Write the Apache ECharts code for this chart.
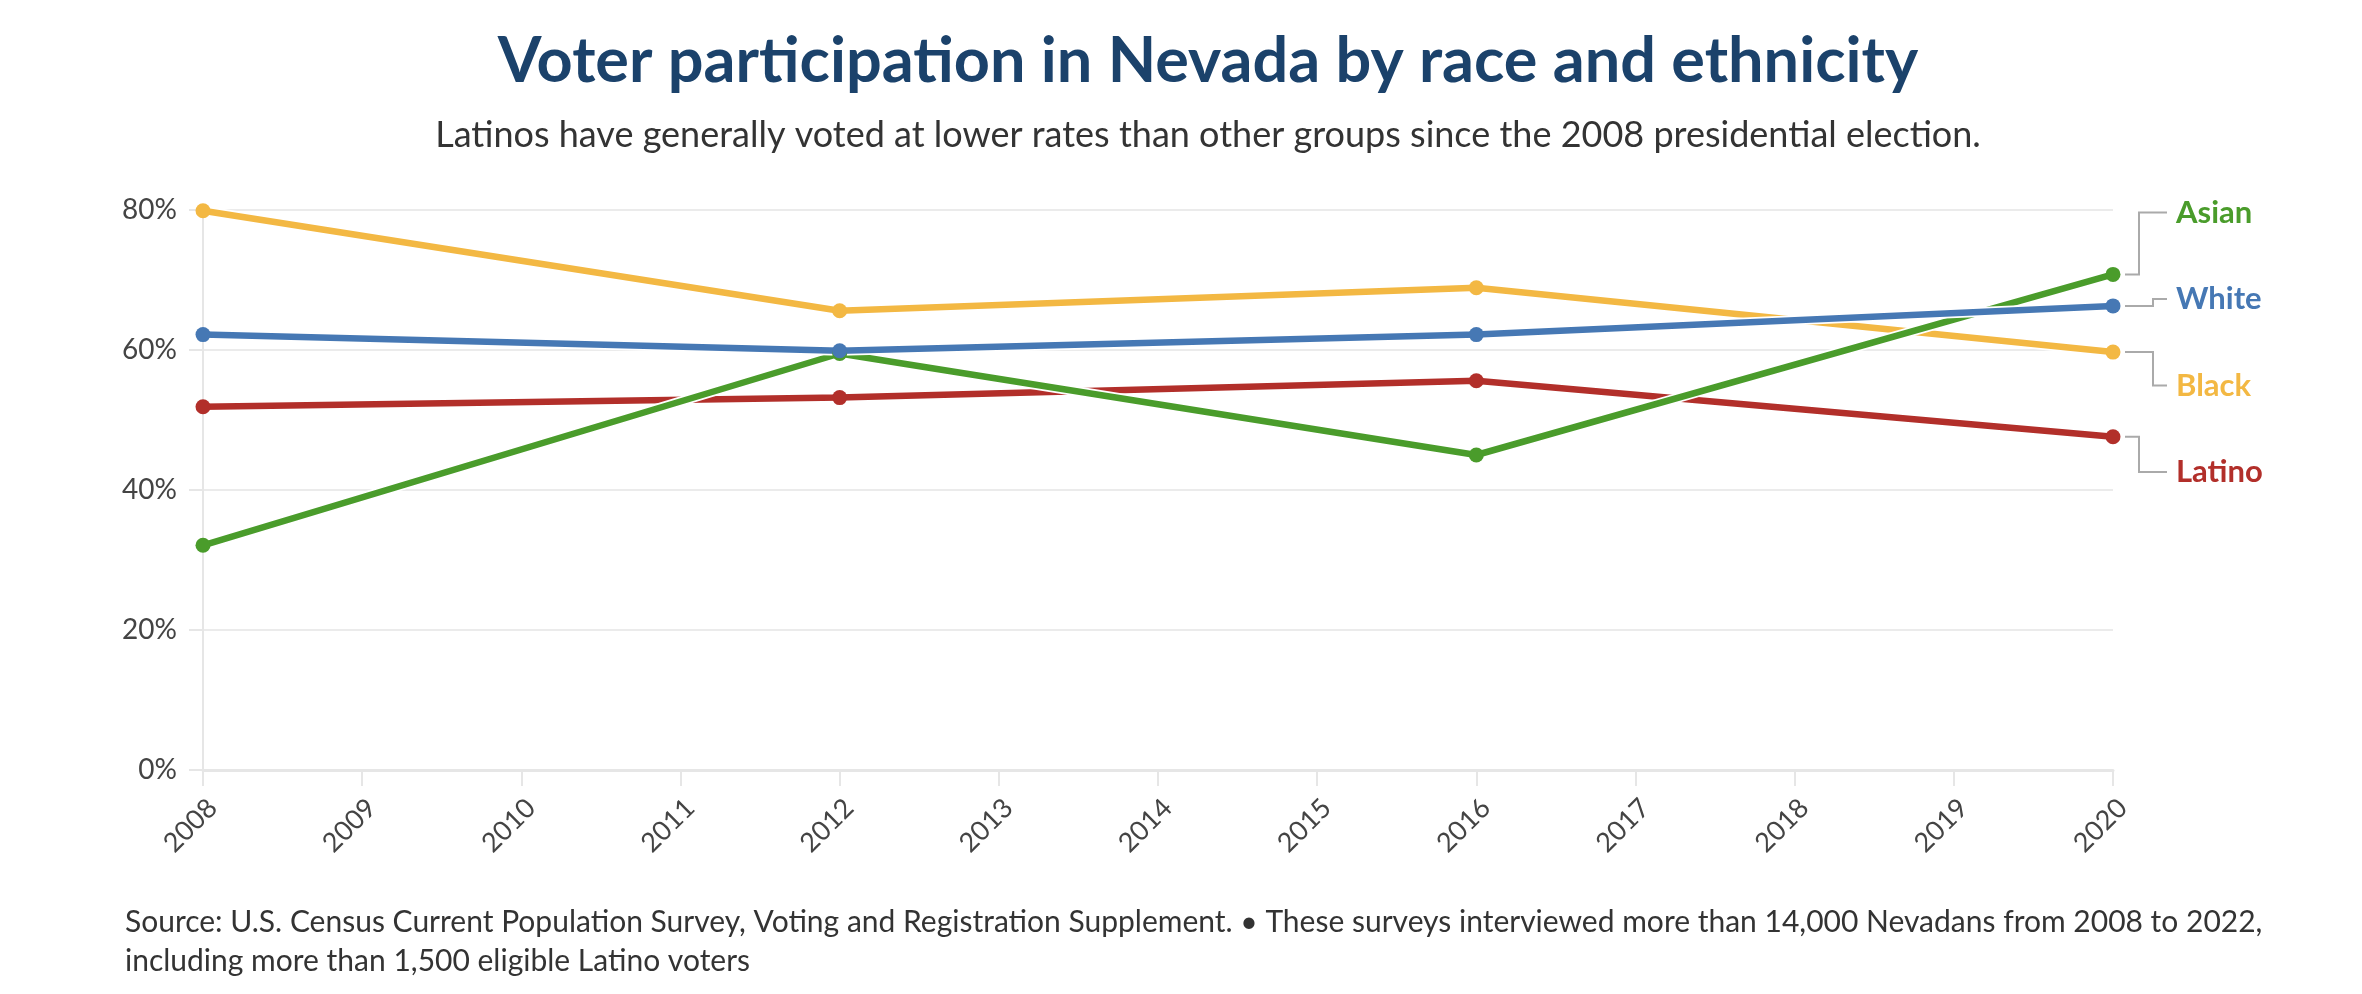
<!DOCTYPE html>
<html><head><meta charset="utf-8">
<script src="https://cdn.jsdelivr.net/npm/echarts@6/dist/echarts.min.js"></script>
<style>html,body{margin:0;padding:0;background:#fff}#chart{width:2362px;height:994px}</style>
</head><body><div id="chart"></div>
<script>
// ---- data ----
const years = [2008, 2012, 2016, 2020];
const groups = ['Black', 'Latino', 'Asian', 'White'];
const black  = [79.9, 65.6, 68.9, 59.7];
const latino = [51.9, 53.2, 55.6, 47.6];
const asian  = [32.1, 59.5, 45.0, 70.8];
const white  = [62.2, 59.9, 62.2, 66.3];
const yTicks = [0, 20, 40, 60, 80];
const xTickYears = [2008, 2009, 2010, 2011, 2012, 2013, 2014, 2015, 2016, 2017, 2018, 2019, 2020];
const titleText = 'Voter participation in Nevada by race and ethnicity';
const subtitleText = 'Latinos have generally voted at lower rates than other groups since the 2008 presidential election.';
const footerText = 'Source: U.S. Census Current Population Survey, Voting and Registration Supplement. \u2022 These surveys interviewed more than 14,000 Nevadans from 2008 to 2022,\nincluding more than 1,500 eligible Latino voters';

// ---- styles ----
const FONT = 'Lato, "Noto Sans", sans-serif';
const colors = { Black: '#f3b843', Latino: '#b22f2a', Asian: '#4a9c2b', White: '#4678b4' };
const valuesOf = { Black: black, Latino: latino, Asian: asian, White: white };
const last = years.length - 1;
const labelData = groups.map((g, i) => [years[last], valuesOf[g][last], i]);

function spread(items, gap) {
  const sorted = items.slice().sort((a, b) => a.y - b.y);
  let blocks = sorted.map(it => ({ items: [it], sum: it.y }));
  const pos = b => b.sum / b.items.length - (b.items.length - 1) * gap / 2;
  let merged = true;
  while (merged) {
    merged = false;
    for (let k = 0; k < blocks.length - 1; k++) {
      const a = blocks[k], b = blocks[k + 1];
      if (pos(a) + a.items.length * gap > pos(b)) {
        blocks.splice(k, 2, { items: a.items.concat(b.items), sum: a.sum + b.sum });
        merged = true; break;
      }
    }
  }
  const out = {};
  let rank = 0;
  blocks.forEach(b => {
    const p = pos(b);
    b.items.forEach((it, j) => { out[it.i] = { y: p + j * gap, rank: rank++ }; });
  });
  return out;
}

const series = [];
groups.forEach(g => {
  series.push({
    type: 'line', name: g + '-halo', data: years.map((y, i) => [y, valuesOf[g][i]]),
    symbol: 'none', silent: true, lineStyle: { color: '#ffffff', width: 10 }, animation: false
  });
  series.push({
    type: 'line', name: g, data: years.map((y, i) => [y, valuesOf[g][i]]),
    symbol: 'circle', symbolSize: 15, showSymbol: true,
    lineStyle: { color: colors[g], width: 6.5 }, itemStyle: { color: colors[g] }, animation: false
  });
});
series.push({
  type: 'custom', name: 'labels', data: labelData, clip: false, animation: false,
  encode: { x: 0, y: 1 },
  renderItem: function (params, api) {
    const pts = labelData.map(d => api.coord([d[0], d[1]]));
    const lay = spread(pts.map((p, i) => ({ i: i, y: p[1] })), 86.5);
    const idx = params.dataIndex;
    const p = pts[idx], L = lay[idx];
    const outer = (L.rank === 0 || L.rank === labelData.length - 1);
    const ex = p[0] + (outer ? 26 : 40);
    const g = groups[labelData[idx][2]];
    return {
      type: 'group', children: [
        { type: 'polyline', shape: { points: [[p[0] + 12, p[1]], [ex, p[1]], [ex, L.y], [p[0] + 54, L.y]] },
          style: { stroke: '#aaaaaa', lineWidth: 2, fill: 'none' } },
        { type: 'text', x: p[0] + 63, y: L.y,
          style: { text: g, fill: colors[g], font: 'bold 31px ' + FONT, align: 'left', verticalAlign: 'middle' } }
      ]
    };
  }
});

const chart = echarts.init(document.getElementById('chart'));
chart.setOption({
  backgroundColor: '#ffffff',
  animation: false,
  title: [
    { text: titleText, left: 1203, top: 25, textAlign: 'center',
      textStyle: { fontFamily: FONT, fontSize: 63, fontWeight: 'bold', color: '#1b426b', lineHeight: 63 } },
    { text: subtitleText, left: 1203, top: 112, textAlign: 'center',
      textStyle: { fontFamily: FONT, fontSize: 36, fontWeight: 'normal', color: '#333333', lineHeight: 36 } },
    { text: footerText, left: 120, top: 898,
      textStyle: { fontFamily: FONT, fontSize: 30, fontWeight: 'normal', color: '#333333', lineHeight: 39 } }
  ],
  grid: { left: 203, right: 249, top: 210, bottom: 224, containLabel: false },
  xAxis: {
    type: 'value', min: xTickYears[0], max: xTickYears[xTickYears.length - 1], interval: 1,
    axisLine: { show: true, lineStyle: { color: '#e6e6e6', width: 3 } },
    axisTick: { show: true, length: 16, lineStyle: { color: '#e6e6e6', width: 2 } },
    splitLine: { show: false },
    axisLabel: { rotate: 45, margin: 24, verticalAlign: 'top', fontFamily: FONT, fontSize: 27, color: '#444444', formatter: v => String(v) }
  },
  yAxis: {
    type: 'value', min: yTicks[0], max: yTicks[yTicks.length - 1], interval: yTicks[1] - yTicks[0],
    axisLine: { show: true, lineStyle: { color: '#e6e6e6', width: 2 } },
    axisTick: { show: true, length: 14, lineStyle: { color: '#e6e6e6', width: 2 } },
    splitLine: { show: true, lineStyle: { color: '#ebebeb', width: 2 } },
    axisLabel: { margin: 26, fontFamily: FONT, fontSize: 28, color: '#444444', formatter: '{value}%' }
  },
  series: series
});
</script></body></html>
